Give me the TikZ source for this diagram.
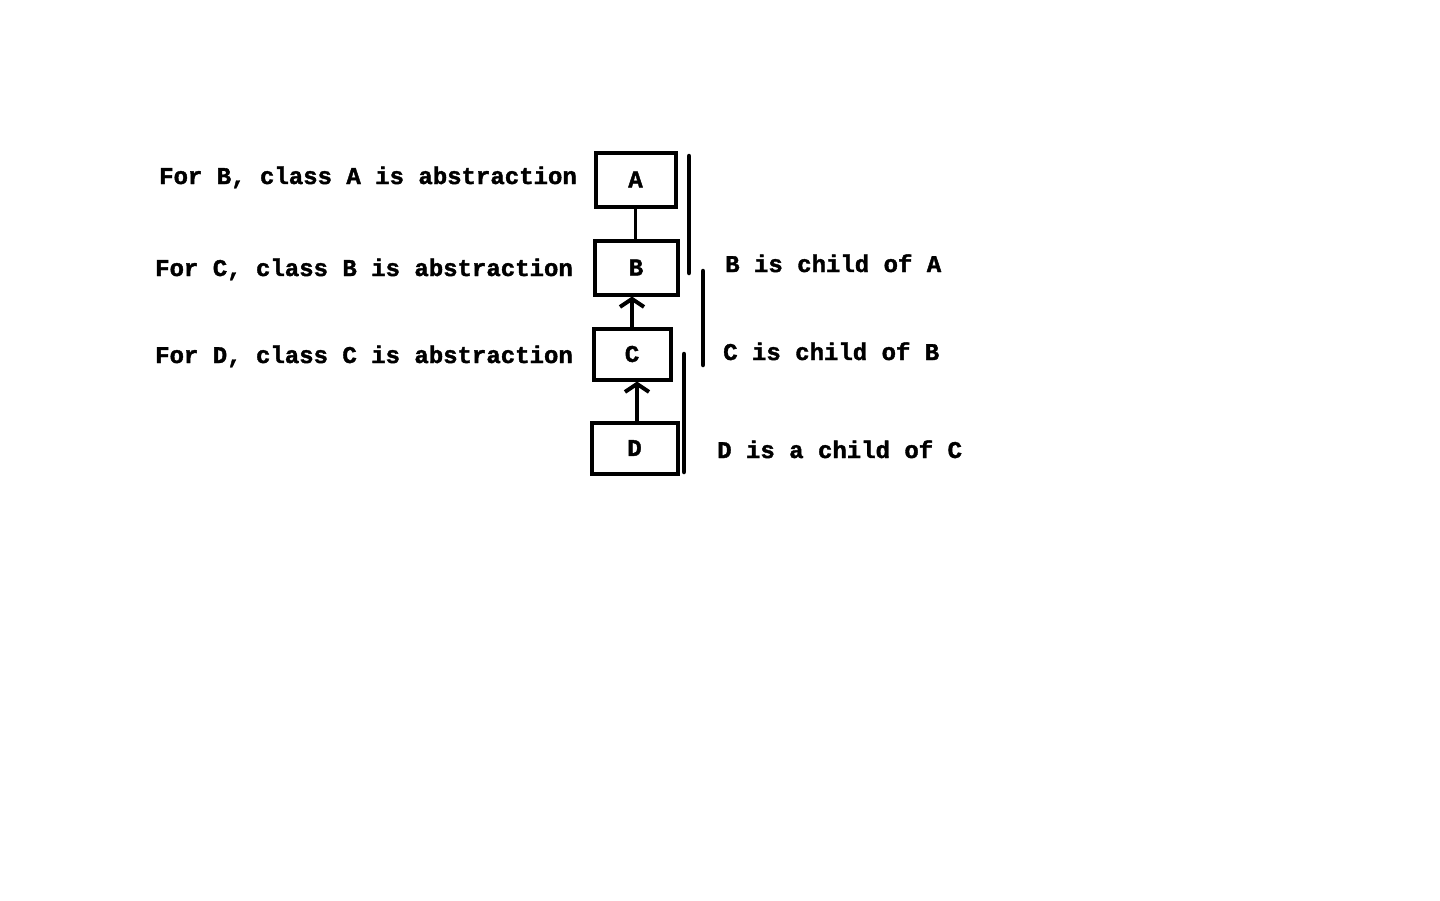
\documentclass[tikz,border=0pt]{standalone}
\usepackage{fontspec}
\setmainfont{Liberation Mono}[BoldFeatures={FakeBold=1.6}]
\usetikzlibrary{arrows.meta}
\begin{document}
\begin{tikzpicture}[x=1pt,y=-1pt,
  box/.style={draw=black,line width=4pt,inner sep=0pt,font=\fontsize{24}{24}\selectfont\bfseries},
  txt/.style={anchor=base west,inner sep=0pt,font=\fontsize{24}{24}\selectfont\bfseries},
  conn/.style={line width=3.5pt},
  arr/.style={line width=4pt,-{Straight Barb[length=8pt,width=24pt]}},
  bar/.style={line width=4.5pt,line cap=round}]
\useasboundingbox[fill=white] (0,0) rectangle (1440,900);
\node[box,minimum width=80pt,minimum height=54pt] (A) at (635.5,179.5) {A};
\node[box,minimum width=83pt,minimum height=54pt] (B) at (636,267.5) {B};
\node[box,minimum width=77pt,minimum height=51pt] (C) at (632,354) {C};
\node[box,minimum width=86pt,minimum height=51pt] (D) at (634.5,448) {D};
\draw[conn] (B.north -| A.south) -- (A.south);
\draw[arr] (C.north) -- (C.north |- B.south);
\draw[arr] ([xshift=2.5pt]D.north) -- ([xshift=2.5pt]D.north |- C.south);
\draw[bar] (689,156) -- (689,273);
\draw[bar] (703,271) -- (703,365);
\draw[bar] (684,354) -- (684,472);
\node[txt] (t1) at (159,184) {For B, class A is abstraction};
\node[txt] (t2) at (155,276) {For C, class B is abstraction};
\node[txt] (t3) at (155,363) {For D, class C is abstraction};
\node[txt] (r1) at (725,272) {B is child of A};
\node[txt] (r2) at (723,360) {C is child of B};
\node[txt] (r3) at (717,458) {D is a child of C};
\end{tikzpicture}
\end{document}
